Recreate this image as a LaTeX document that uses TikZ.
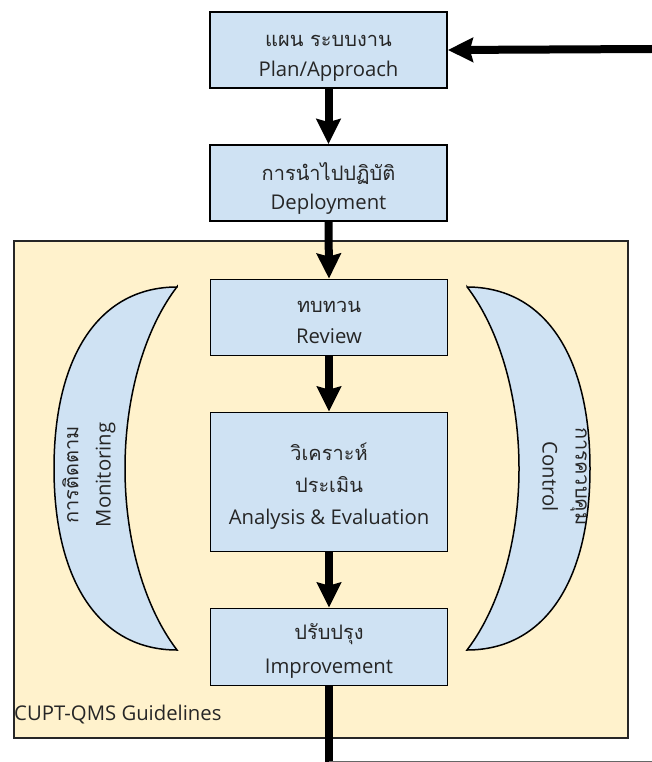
\documentclass[tikz,border=0pt]{standalone}
\usepackage{fontspec}
\setmainfont{Open Sans}
\newfontfamily\thai[Script=Thai]{Loma}
\usetikzlibrary{arrows.meta}
\definecolor{boxblue}{HTML}{CFE2F3}
\definecolor{paleyellow}{HTML}{FFF2CC}
\definecolor{txt}{HTML}{262626}
\begin{document}
\begin{tikzpicture}[x=1pt,y=-1pt,
  stepbox/.style={draw=black, line width=1.8pt, fill=boxblue, minimum width=237pt, inner sep=0pt},
  en/.style={anchor=base, inner sep=0pt, text=txt, font=\fontsize{20.3}{24}\selectfont},
  th/.style={anchor=base, inner sep=0pt, text=txt, font=\thai\fontsize{20}{24}\selectfont},
  flow/.style={line width=8pt, -{Stealth[length=25pt,width=24pt,inset=3pt]}},
  moon/.style={draw=black, line width=1.5pt, fill=boxblue}]
\useasboundingbox (0,0) rectangle (652,762);
% guideline frame
\draw[fill=paleyellow, draw=black!85, line width=1.5pt] (14,241) rectangle (628,738);
\node[en, anchor=base west] (guide) at (14,720) {CUPT-QMS Guidelines};
% crescents
\draw[moon] (177,287) .. controls (100,287) and (54,355) .. (54,468.5)
  .. controls (54,582) and (100,650) .. (177,650)
  arc[start angle=126.87, end angle=233.13, x radius=130, y radius=227] -- cycle;
\draw[moon] (467,287) .. controls (544,287) and (590,355) .. (590,468.5)
  .. controls (590,582) and (544,650) .. (467,650)
  arc[start angle=53.13, end angle=-53.13, x radius=130, y radius=227] -- cycle;
\node[th, rotate=90] (mon-th) at (78.3,475) {การติดตาม};
\node[en, rotate=90] (mon-en) at (110.7,475) {Monitoring};
\node[th, rotate=-90] (ctl-th) at (575.5,476.5) {การควบคุม};
\node[en, rotate=-90] (ctl-en) at (542.7,476.7) {Control};
% boxes
\node[stepbox, minimum height=76pt] (plan) at (328.5,50) {};
\node[stepbox, minimum height=76pt] (deploy) at (328.5,183) {};
\node[stepbox, minimum height=76pt] (review) at (329,317.5) {};
\node[stepbox, minimum height=139pt] (analysis) at (329,482) {};
\node[stepbox, minimum height=77pt] (improve) at (329,647) {};
% box texts
\node[th] (plan-th) at (328.5,47) {แผน ระบบงาน};
\node[en] (plan-en) at (328.5,77) {Plan/Approach};
\node[th] (deploy-th) at (328.5,180) {การนำไปปฏิบัติ};
\node[en] (deploy-en) at (328.5,209.5) {Deployment};
\node[th] (review-th) at (329,312) {ทบทวน};
\node[en] (review-en) at (329,343) {Review};
\node[th] (analysis-th1) at (329,460) {วิเคราะห์};
\node[th] (analysis-th2) at (329,492.5) {ประเมิน};
\node[en] (analysis-en) at (329,524) {Analysis \& Evaluation};
\node[th] (improve-th) at (329,639.5) {ปรับปรุง};
\node[en] (improve-en) at (329,673) {Improvement};
% connectors
\coordinate (in) at (652,49);
\coordinate (out) at (329,762);
\coordinate (outR) at (652,761);
\draw[flow] (in) -- (plan.east);
\draw[flow] (plan.south) -- (deploy.north);
\draw[flow] (deploy.south) -- (review.north);
\draw[flow] (review.south) -- (analysis.north);
\draw[flow] (analysis.south) -- (improve.north);
\draw[line width=8pt] (improve.south) -- (out);
\draw[black!60, line width=1pt] (out |- outR) -- (outR);
\end{tikzpicture}
\end{document}
